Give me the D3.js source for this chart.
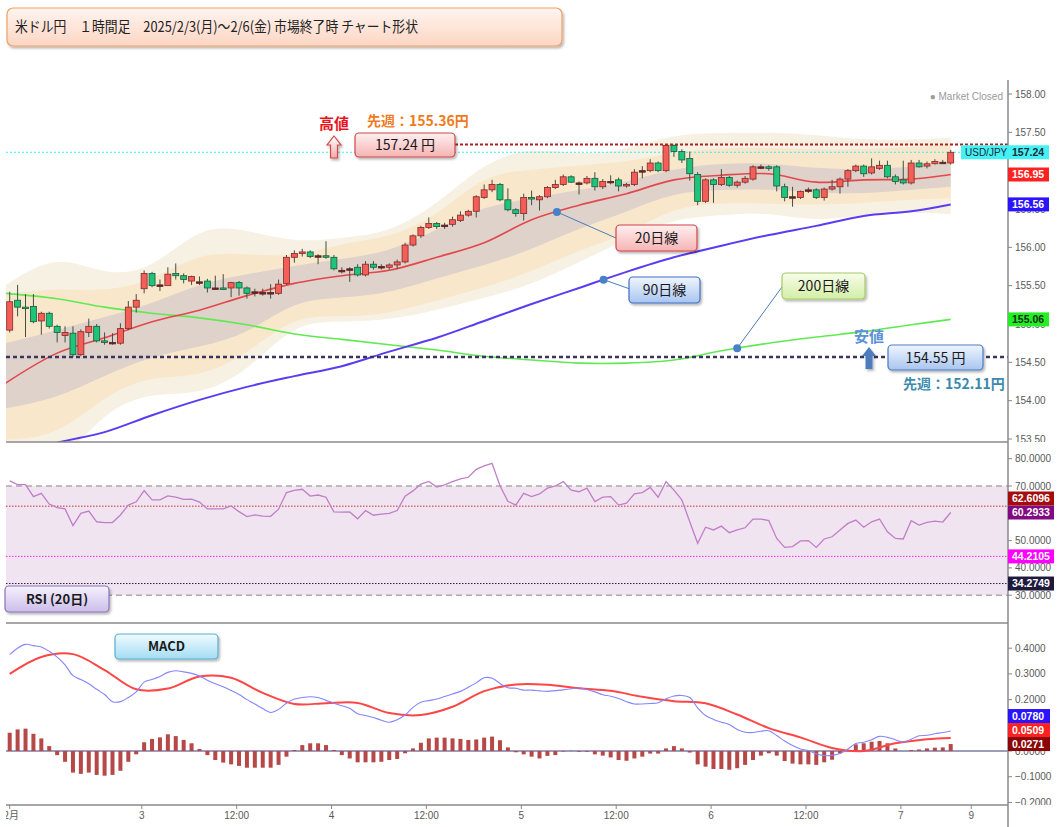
<!DOCTYPE html>
<html>
<head>
<meta charset="utf-8">
<script src="https://cdn.jsdelivr.net/npm/d3@7"></script>
<style>
  body { margin: 0; background: #fff; }
  svg { display: block; font-family: "Liberation Sans", Arial, sans-serif; }
  .jp { font-family: "Noto Sans CJK JP", "Noto Sans", sans-serif; }
</style>
</head>
<body>
<div id="chart"></div>
<script>
// ---------------- DATA ----------------
// hourly candles, index 0..119
const opens = [
  154.92,155.31,155.22,155.23,155.04,155.14,154.97,154.85,154.88,154.60,
  154.89,154.97,154.78,154.76,154.75,154.94,155.22,155.46,155.66,155.51,
  155.50,155.66,155.63,155.56,155.55,155.56,155.47,155.47,155.47,155.54,
  155.47,155.42,155.41,155.41,155.40,155.53,155.87,155.92,155.94,155.89,
  155.89,155.87,155.70,155.72,155.74,155.64,155.78,155.75,155.74,155.77,
  155.81,156.03,156.15,156.26,156.31,156.29,156.30,156.35,156.42,156.47,
  156.65,156.75,156.82,156.62,156.49,156.44,156.65,156.62,156.66,156.78,
  156.82,156.92,156.84,156.84,156.90,156.79,156.86,156.88,156.80,156.82,
  157.00,157.00,157.10,157.00,157.33,157.25,157.16,156.95,156.60,156.88,
  156.82,156.91,156.81,156.85,156.89,157.05,157.05,157.05,156.79,156.66,
  156.65,156.75,156.75,156.65,156.76,156.79,156.89,157.00,157.06,156.97,
  157.03,157.07,156.92,156.88,156.84,157.10,157.06,157.09,157.11,157.10
];
const highs = [
  155.42,155.51,155.39,155.39,155.16,155.16,154.99,154.97,154.97,154.93,
  155.07,155.00,154.89,154.88,155.01,155.30,155.39,155.70,155.68,155.58,
  155.74,155.79,155.66,155.63,155.62,155.59,155.63,155.65,155.55,155.56,
  155.49,155.46,155.46,155.52,155.58,155.90,155.96,155.98,155.96,155.91,
  156.08,155.90,155.74,155.74,155.78,155.82,155.82,155.78,155.79,155.84,
  156.06,156.17,156.28,156.39,156.33,156.32,156.40,156.47,156.49,156.68,
  156.82,156.88,156.84,156.77,156.51,156.70,156.74,156.68,156.80,156.88,
  156.95,156.94,156.86,156.93,156.98,156.89,156.94,156.91,156.84,157.02,
  157.06,157.15,157.12,157.34,157.34,157.28,157.25,156.98,156.90,156.90,
  157.02,156.93,156.87,156.93,157.07,157.08,157.07,157.07,156.83,156.79,
  156.74,156.78,156.77,156.78,156.88,156.91,157.02,157.08,157.08,157.16,
  157.13,157.13,156.95,157.13,157.14,157.14,157.12,157.15,157.14,157.27
];
const lows = [
  154.89,155.10,154.83,155.01,154.86,154.94,154.76,154.76,154.57,154.58,
  154.83,154.76,154.73,154.73,154.73,154.92,155.15,155.40,155.48,155.43,
  155.50,155.58,155.53,155.51,155.51,155.41,155.46,155.45,155.35,155.37,
  155.33,155.36,155.37,155.33,155.38,155.51,155.80,155.88,155.86,155.78,
  155.85,155.70,155.66,155.55,155.62,155.62,155.71,155.71,155.71,155.72,
  155.79,156.01,156.12,156.24,156.24,156.24,156.27,156.33,156.40,156.39,
  156.63,156.72,156.60,156.47,156.40,156.35,156.55,156.48,156.64,156.76,
  156.80,156.84,156.69,156.82,156.74,156.76,156.82,156.73,156.78,156.80,
  156.90,156.98,156.98,156.98,157.18,157.10,156.87,156.55,156.58,156.58,
  156.80,156.79,156.78,156.83,156.87,157.02,157.00,156.73,156.60,156.53,
  156.63,156.71,156.63,156.61,156.74,156.70,156.79,156.98,156.92,156.95,
  157.01,156.90,156.82,156.82,156.82,157.04,157.03,157.08,157.09,157.08
];
const closes = [
  155.29,155.22,155.21,155.03,155.14,154.97,154.89,154.89,154.60,154.90,
  154.97,154.78,154.76,154.76,154.94,155.22,155.31,155.66,155.50,155.51,
  155.65,155.63,155.58,155.62,155.55,155.47,155.47,155.46,155.54,155.47,
  155.40,155.42,155.41,155.41,155.52,155.87,155.92,155.94,155.88,155.89,
  155.88,155.72,155.70,155.72,155.64,155.78,155.74,155.75,155.77,155.81,
  156.03,156.15,156.26,156.31,156.27,156.29,156.36,156.42,156.47,156.66,
  156.75,156.82,156.62,156.49,156.44,156.65,156.63,156.66,156.78,156.82,
  156.92,156.85,156.84,156.90,156.79,156.86,156.86,156.80,156.82,156.98,
  157.00,157.10,157.00,157.33,157.25,157.14,156.96,156.60,156.88,156.82,
  156.91,156.81,156.85,156.90,157.05,157.05,157.03,156.80,156.65,156.66,
  156.73,156.75,156.65,156.76,156.79,156.89,157.00,157.06,156.96,157.05,
  157.07,156.92,156.86,156.84,157.10,157.05,157.09,157.12,157.11,157.24
];

// moving averages and envelope bands, sampled every 6 candles
const bandIdx   = [-0.5, 6, 12, 18, 24, 30, 36, 42, 48, 54, 60, 66, 72, 78, 84, 90, 96, 102, 108, 114, 119];
const ma20      = [154.23,154.62,154.82,155.03,155.18,155.37,155.53,155.63,155.70,155.87,156.06,156.36,156.55,156.70,156.88,156.94,156.96,156.85,156.88,156.89,156.95];
const ma90      = [153.25,153.45,153.59,153.81,154.01,154.18,154.32,154.45,154.64,154.82,155.04,155.26,155.47,155.68,155.87,156.02,156.16,156.28,156.41,156.47,156.56];
const ma200     = [155.40,155.33,155.22,155.14,155.08,154.99,154.87,154.80,154.73,154.66,154.58,154.53,154.49,154.49,154.53,154.65,154.75,154.83,154.90,154.99,155.06];
const band3Up   = [155.51,155.93,155.63,155.70,156.29,156.23,156.06,156.12,156.19,156.55,157.11,157.31,157.20,157.27,157.48,157.49,157.50,157.47,157.40,157.40,157.43];
const band2Up   = [155.39,155.47,155.42,155.56,155.94,155.91,155.87,156.06,156.12,156.40,156.96,157.01,157.07,157.11,157.24,157.30,157.30,157.27,157.28,157.31,157.33];
const band1Up   = [154.75,154.92,155.09,155.26,155.53,155.65,155.76,155.85,155.94,156.23,156.54,156.64,156.75,156.85,157.03,157.10,157.10,157.03,157.01,157.05,157.10];
const band1Down = [153.90,154.03,154.33,154.58,154.70,154.86,155.31,155.34,155.40,155.60,155.76,155.97,156.25,156.46,156.72,156.75,156.76,156.71,156.70,156.75,156.79];
const band2Down = [153.49,153.53,154.07,154.33,154.30,154.60,155.12,155.09,155.13,155.31,155.47,155.68,155.97,156.16,156.53,156.58,156.57,156.55,156.58,156.62,156.64];
const band3Down = [153.10,153.10,153.88,154.11,154.07,154.37,155.03,155.03,155.05,155.18,155.34,155.51,155.81,156.10,156.38,156.42,156.46,156.33,156.43,156.46,156.43];

// RSI (20), per candle
const rsi = [
  71.9,70.5,70.5,66.1,67.3,63.4,62.1,61.6,55.5,60.0,
  60.8,56.9,56.6,56.6,59.4,63.0,64.2,68.3,64.9,64.9,
  66.4,65.9,65.1,65.2,64.1,61.6,61.6,61.6,62.7,60.6,
  58.8,59.4,59.0,58.9,61.5,67.6,68.4,68.8,66.3,66.7,
  65.9,60.5,60.4,60.5,58.0,61.0,59.3,59.7,60.0,61.0,
  66.3,68.2,70.7,71.7,69.6,70.4,71.6,72.6,73.2,76.1,
  77.4,78.3,70.1,64.4,63.0,67.3,66.1,67.1,69.2,70.0,
  71.6,68.5,67.9,69.2,64.3,65.9,66.1,63.0,63.7,67.1,
  67.6,69.5,65.9,71.6,68.5,64.9,56.9,49.0,54.9,53.9,
  55.3,52.9,53.9,54.7,57.9,57.9,57.3,50.8,47.5,47.8,
  49.9,50.0,47.5,50.6,51.4,53.9,56.3,57.5,54.9,56.9,
  57.9,53.2,50.8,50.6,57.3,55.7,56.7,57.1,56.8,60.2933
];
const rsiLevels = [62.6096, 44.2105, 34.2749];
const rsiLevelColors = ["#c43434", "#ff22ff", "#2a2448"];
const rsiBadgeColors = ["#a50d0d", "#ff00ff", "#1e1a3c"];

// MACD, per candle
const macd = [
  0.375,0.400,0.415,0.410,0.405,0.388,0.365,0.335,0.293,0.278,
  0.262,0.240,0.220,0.192,0.192,0.208,0.230,0.268,0.278,0.290,
  0.306,0.312,0.308,0.302,0.292,0.275,0.262,0.250,0.235,0.220,
  0.200,0.183,0.165,0.150,0.162,0.186,0.202,0.208,0.211,0.208,
  0.197,0.186,0.176,0.166,0.145,0.138,0.130,0.120,0.112,0.122,
  0.140,0.170,0.190,0.196,0.202,0.212,0.222,0.232,0.248,0.265,
  0.285,0.283,0.263,0.246,0.244,0.237,0.237,0.234,0.232,0.235,
  0.238,0.242,0.245,0.239,0.230,0.219,0.213,0.204,0.192,0.183,
  0.183,0.185,0.188,0.203,0.214,0.216,0.208,0.168,0.138,0.123,
  0.112,0.103,0.084,0.073,0.072,0.077,0.079,0.060,0.039,0.021,
  0.008,0.002,-0.011,-0.018,-0.017,-0.010,0.008,0.029,0.034,0.044,
  0.057,0.053,0.044,0.034,0.046,0.059,0.061,0.067,0.072,0.0780
];
const macdHist = [
  0.071,0.084,0.087,0.067,0.049,0.019,-0.016,-0.042,-0.084,-0.089,
  -0.084,-0.093,-0.096,-0.093,-0.077,-0.042,-0.013,0.034,0.047,0.053,
  0.065,0.058,0.043,0.030,0.008,-0.016,-0.035,-0.045,-0.052,-0.058,
  -0.065,-0.065,-0.065,-0.065,-0.054,-0.022,0.004,0.023,0.030,0.030,
  0.023,0.004,-0.016,-0.029,-0.044,-0.044,-0.044,-0.042,-0.035,-0.031,
  -0.009,0.010,0.032,0.049,0.052,0.052,0.049,0.047,0.043,0.045,
  0.052,0.056,0.042,0.014,-0.005,-0.013,-0.022,-0.029,-0.019,-0.016,
  -0.002,0.001,-0.003,-0.003,-0.013,-0.018,-0.025,-0.035,-0.038,-0.029,
  -0.022,-0.010,-0.010,0.010,0.019,0.010,-0.006,-0.052,-0.061,-0.070,
  -0.070,-0.073,-0.067,-0.054,-0.035,-0.018,-0.009,-0.018,-0.039,-0.049,
  -0.052,-0.052,-0.054,-0.044,-0.034,-0.009,0.004,0.026,0.030,0.036,
  0.039,0.030,0.010,0.000,0.004,0.006,0.010,0.013,0.014,0.0271
];
const signalIdx = [0,4,8,12,16,20,24,28,32,36,40,44,48,52,56,60,64,68,72,76,80,84,88,92,96,100,104,108,112,116,119];
const signal    = [0.300,0.366,0.377,0.315,0.240,0.243,0.290,0.285,0.226,0.183,0.186,0.187,0.148,0.140,0.172,0.233,0.259,0.258,0.244,0.234,0.211,0.194,0.186,0.142,0.089,0.053,0.012,0.000,0.030,0.046,0.0509];

// axes
const priceTicks = [153.5, 154.0, 154.5, 155.0, 155.5, 156.0, 156.5, 157.0, 157.5, 158.0];
const rsiTicks = [30, 40, 50, 60, 70, 80];
const macdTicks = [-0.2, -0.1, 0, 0.1, 0.2, 0.3, 0.4];
const timeTickIdx = [0, 16.7, 28.7, 40.7, 52.7, 64.7, 76.7, 88.7, 100.7, 112.7, 121.6];
const timeTickLabels = ["2月", "3", "12:00", "4", "12:00", "5", "12:00", "6", "12:00", "7", "9"];

const titleText = "米ドル円　１時間足　2025/2/3(月)～2/6(金) 市場終了時 チャート形状";

// ---------------- LAYOUT ----------------
const width = 1059, height = 827;
const left = 6, right = 1008;
const mainTop = 55, mainBottom = 442, rsiBottom = 623, macdBottom = 805;

const svg = d3.select("#chart").append("svg")
  .attr("width", width)
  .attr("height", height);

const defs = svg.append("defs");

const shadow = defs.append("filter").attr("id", "shadow")
  .attr("x", "-10%").attr("y", "-20%").attr("width", "130%").attr("height", "160%");
shadow.append("feDropShadow")
  .attr("dx", 1.5).attr("dy", 2).attr("stdDeviation", 1.3)
  .attr("flood-color", "#000").attr("flood-opacity", 0.28);

const gradient = (id, top, bottom) => {
  const g = defs.append("linearGradient").attr("id", id)
    .attr("x1", 0).attr("y1", 0).attr("x2", 0).attr("y2", 1);
  g.append("stop").attr("offset", "0%").attr("stop-color", top);
  g.append("stop").attr("offset", "100%").attr("stop-color", bottom);
};
gradient("gTitle", "#fff4f0", "#fdd6c3");
gradient("gPink", "#fff0f0", "#f6b3b3");
gradient("gBlue", "#f0f5ff", "#a8c5ef");
gradient("gGreen", "#f8fdea", "#d3eea6");
gradient("gLav", "#f6f2fd", "#cbbde9");
gradient("gCyan", "#f0fbff", "#a4dcf4");
gradient("gArrow", "#ffffff", "#f4a8a8");

const clip = (id, y0, y1) => defs.append("clipPath").attr("id", id)
  .append("rect").attr("x", left).attr("y", y0).attr("width", right - left).attr("height", y1 - y0);
clip("clipMain", mainTop, mainBottom);
clip("clipRsi", mainBottom, rsiBottom);
clip("clipMacd", rsiBottom, macdBottom);
defs.append("clipPath").attr("id", "clipX")
  .append("rect").attr("x", left).attr("y", macdBottom).attr("width", width).attr("height", 30);

// scales
const x = d3.scaleLinear().domain([0, 119]).range([9.7, 950.7]);
const yP = d3.scaleLinear().domain([153.5, 158]).range([439, 94]);
const yR = d3.scaleLinear().domain([30, 80]).range([595.2, 458.7]);
const yM = d3.scaleLinear().domain([-0.2, 0.4]).range([802.4, 648.2]);

// ---------------- TITLE ----------------
svg.append("rect")
  .attr("x", 7).attr("y", 8).attr("width", 555).attr("height", 38).attr("rx", 6)
  .attr("fill", "url(#gTitle)").attr("stroke", "#f0a065").attr("stroke-width", 1.2)
  .attr("filter", "url(#shadow)");
svg.append("text").attr("class", "jp")
  .attr("x", 15).attr("y", 32)
  .attr("font-size", 14.5).attr("fill", "#222")
  .attr("textLength", 403).attr("lengthAdjust", "spacingAndGlyphs")
  .text(titleText);

// ---------------- MAIN PANEL ----------------
const main = svg.append("g").attr("clip-path", "url(#clipMain)");

const bandData = bandIdx.map((i, k) => ({
  i, u3: band3Up[k], u2: band2Up[k], u1: band1Up[k],
  d1: band1Down[k], d2: band2Down[k], d3: band3Down[k]
}));
const band = (up, down) => d3.area()
  .x(d => x(d.i)).y0(d => yP(d[down])).y1(d => yP(d[up]))
  .curve(d3.curveBasis);
main.append("path").datum(bandData).attr("d", band("u3", "d3")).attr("fill", "#f6f1e2");
main.append("path").datum(bandData).attr("d", band("u2", "d2")).attr("fill", "#f9e7cc");
main.append("path").datum(bandData).attr("d", band("u1", "d1")).attr("fill", "#ded2ca");

// moving averages
const maLine = d3.line().x(d => x(d[0])).y(d => yP(d[1])).curve(d3.curveCatmullRom.alpha(0.5));
const maSeries = [
  { values: ma200, color: "#5fea52", w: 1.6 },
  { values: ma90, color: "#5a3cf2", w: 2 },
  { values: ma20, color: "#e4474c", w: 1.6 }
];
maSeries.forEach(s => {
  main.append("path")
    .datum(bandIdx.map((i, k) => [i, s.values[k]]))
    .attr("d", maLine)
    .attr("fill", "none").attr("stroke", s.color).attr("stroke-width", s.w);
});

// current price / high / low reference lines
const lastClose = closes[closes.length - 1];
const hiPrice = d3.max(highs), loPrice = d3.min(lows);
main.append("line")
  .attr("x1", left).attr("x2", right).attr("y1", yP(lastClose)).attr("y2", yP(lastClose))
  .attr("stroke", "#3ee8f4").attr("stroke-width", 1).attr("stroke-dasharray", "2,2");
main.append("line")
  .attr("x1", 455).attr("x2", right).attr("y1", yP(hiPrice)).attr("y2", yP(hiPrice))
  .attr("stroke", "#a82424").attr("stroke-width", 2).attr("stroke-dasharray", "3,2");
main.append("line")
  .attr("x1", left).attr("x2", right).attr("y1", yP(loPrice)).attr("y2", yP(loPrice))
  .attr("stroke", "#3c3460").attr("stroke-width", 2.5).attr("stroke-dasharray", "4,3");

// candles
const candles = d3.range(opens.length).map(i => ({
  i, o: opens[i], h: highs[i], l: lows[i], c: closes[i]
}));
const cg = main.append("g");
cg.selectAll("line.wick").data(candles).join("line")
  .attr("class", "wick")
  .attr("x1", d => x(d.i)).attr("x2", d => x(d.i))
  .attr("y1", d => yP(d.h)).attr("y2", d => yP(d.l))
  .attr("stroke", "#3f5140").attr("stroke-width", 1);
cg.selectAll("rect").data(candles).join("rect")
  .attr("x", d => x(d.i) - 3)
  .attr("width", 6)
  .attr("y", d => yP(Math.max(d.o, d.c)))
  .attr("height", d => Math.max(1.5, Math.abs(yP(d.o) - yP(d.c))))
  .attr("fill", d => d.c > d.o ? "#f35e56" : (d.c < d.o ? "#1fc47b" : "#6a2424"))
  .attr("stroke", d => d.c > d.o ? "#84292a" : (d.c < d.o ? "#1c5a39" : "#5a1e1e"))
  .attr("stroke-width", 0.8);

// ---------------- RSI PANEL ----------------
const rg = svg.append("g").attr("clip-path", "url(#clipRsi)");
rg.append("rect")
  .attr("x", left).attr("width", right - left)
  .attr("y", yR(70)).attr("height", yR(30) - yR(70))
  .attr("fill", "#f1e4f1");
[70, 30].forEach(v => rg.append("line")
  .attr("x1", left).attr("x2", right).attr("y1", yR(v)).attr("y2", yR(v))
  .attr("stroke", "#ababab").attr("stroke-width", 1.5).attr("stroke-dasharray", "6,4"));
rsiLevels.forEach((v, k) => rg.append("line")
  .attr("x1", left).attr("x2", right).attr("y1", yR(v)).attr("y2", yR(v))
  .attr("stroke", rsiLevelColors[k]).attr("stroke-width", 1).attr("stroke-dasharray", "1.5,1.5"));
rg.append("path").datum(rsi)
  .attr("d", d3.line().x((d, i) => x(i)).y(d => yR(d)))
  .attr("fill", "none").attr("stroke", "#c17ec7").attr("stroke-width", 1.3);

// ---------------- MACD PANEL ----------------
const mg = svg.append("g").attr("clip-path", "url(#clipMacd)");
mg.append("line")
  .attr("x1", left).attr("x2", right).attr("y1", yM(0)).attr("y2", yM(0))
  .attr("stroke", "#7b7ba6").attr("stroke-width", 1.5);
mg.selectAll("rect.hist").data(macdHist).join("rect")
  .attr("class", "hist")
  .attr("x", (d, i) => x(i) - 2).attr("width", 4)
  .attr("y", d => Math.min(yM(d), yM(0)))
  .attr("height", d => Math.abs(yM(d) - yM(0)))
  .attr("fill", "#b64848");
mg.append("path")
  .datum(signalIdx.map((i, k) => [i, signal[k]]))
  .attr("d", d3.line().x(d => x(d[0])).y(d => yM(d[1])).curve(d3.curveCatmullRom.alpha(0.5)))
  .attr("fill", "none").attr("stroke", "#ff4545").attr("stroke-width", 2);
mg.append("path").datum(macd)
  .attr("d", d3.line().x((d, i) => x(i)).y(d => yM(d)).curve(d3.curveCatmullRom.alpha(0.5)))
  .attr("fill", "none").attr("stroke", "#8585ff").attr("stroke-width", 1.1);

// ---------------- FRAME & AXES ----------------
[mainBottom, rsiBottom].forEach(yy => svg.append("line")
  .attr("x1", left).attr("x2", right).attr("y1", yy).attr("y2", yy)
  .attr("stroke", "#8a8a8a").attr("stroke-width", 1.5));
svg.append("line")
  .attr("x1", left).attr("x2", right).attr("y1", macdBottom).attr("y2", macdBottom)
  .attr("stroke", "#8a8a8a").attr("stroke-width", 1.5);
svg.append("line")
  .attr("x1", right).attr("x2", right).attr("y1", 80).attr("y2", height)
  .attr("stroke", "#8a8a8a").attr("stroke-width", 1.5);

// value badges of each panel, stacked bottom-up so they never overlap
const stackBadges = (list, gap) => {
  list.sort((a, b) => b.y - a.y);
  for (let k = 1; k < list.length; k++) {
    if (list[k].y > list[k - 1].y - gap) list[k].y = list[k - 1].y - gap;
  }
  return list;
};
const lastRsi = rsi[rsi.length - 1];
const mainBadges = stackBadges([
  { y: yP(lastClose), text: d3.format(".2f")(lastClose), fill: "#44f2f4", color: "#1a2a3a", w: 41 },
  { y: yP(ma20[ma20.length - 1]), text: d3.format(".2f")(ma20[ma20.length - 1]), fill: "#ff2222", color: "#fff", w: 41 },
  { y: yP(ma90[ma90.length - 1]), text: d3.format(".2f")(ma90[ma90.length - 1]), fill: "#2a14ff", color: "#fff", w: 41 },
  { y: yP(ma200[ma200.length - 1]), text: d3.format(".2f")(ma200[ma200.length - 1]), fill: "#22f022", color: "#1a2a1a", w: 41 }
], 14);
const rsiBadges = stackBadges([
  { y: yR(rsiLevels[0]), text: d3.format(".4f")(rsiLevels[0]), fill: rsiBadgeColors[0], color: "#fff", w: 46 },
  { y: yR(lastRsi), text: d3.format(".4f")(lastRsi), fill: "#820a82", color: "#fff", w: 46 },
  { y: yR(rsiLevels[1]), text: d3.format(".4f")(rsiLevels[1]), fill: rsiBadgeColors[1], color: "#fff", w: 46 },
  { y: yR(rsiLevels[2]), text: d3.format(".4f")(rsiLevels[2]), fill: rsiBadgeColors[2], color: "#fff", w: 46 }
], 14);
const macdBadges = stackBadges([
  { y: yM(macd[macd.length - 1]), text: d3.format(".4f")(macd[macd.length - 1]), fill: "#2a14ff", color: "#fff", w: 42 },
  { y: yM(signal[signal.length - 1]), text: d3.format(".4f")(signal[signal.length - 1]), fill: "#ff2020", color: "#fff", w: 42 },
  { y: yM(macdHist[macdHist.length - 1]), text: d3.format(".4f")(macdHist[macdHist.length - 1]), fill: "#8a0606", color: "#fff", w: 42 }
], 14);

// a tick label (almost) fully hidden behind badges is left out
const covered = (ty, list) => {
  const top = ty - 3, bot = ty + 3;
  const spans = list.map(b => [b.y - 7, b.y + 7]).sort((a, b) => a[0] - b[0]);
  let reach = top;
  for (const [s, e] of spans) { if (s <= reach && e > reach) reach = e; }
  return reach >= bot;
};

const yAxisTicks = (ticks, scale, fmt, y0, y1, blist) => {
  const g = svg.append("g");
  ticks.filter(v => scale(v) > y0 && scale(v) < y1 + 6).forEach(v => {
    g.append("line").attr("x1", right).attr("x2", right + 4)
      .attr("y1", scale(v)).attr("y2", scale(v)).attr("stroke", "#888");
  });
  defs.append("clipPath").attr("id", "cl" + y0)
    .append("rect").attr("x", right).attr("y", y0).attr("width", 60).attr("height", y1 - y0);
  const lab = g.append("g").attr("clip-path", `url(#cl${y0})`);
  ticks.filter(v => !covered(scale(v), blist)).forEach(v => {
    lab.append("text")
      .attr("x", right + 7).attr("y", scale(v)).attr("dy", "0.35em")
      .attr("font-size", 10).attr("fill", "#595959")
      .text(d3.format(fmt)(v));
  });
};
yAxisTicks(priceTicks, yP, ".2f", mainTop, mainBottom, mainBadges);
yAxisTicks(rsiTicks, yR, ".4f", mainBottom, rsiBottom, rsiBadges);
yAxisTicks(macdTicks, yM, ".4f", rsiBottom, macdBottom, macdBadges);

// x axis
const xg = svg.append("g");
timeTickIdx.forEach(t => xg.append("line")
  .attr("x1", x(t)).attr("x2", x(t)).attr("y1", macdBottom).attr("y2", macdBottom + 4)
  .attr("stroke", "#888"));
const xl = xg.append("g").attr("clip-path", "url(#clipX)");
timeTickIdx.forEach((t, k) => xl.append("text")
  .attr("class", k === 0 ? "jp" : null)
  .attr("x", x(t) + (k === 0 ? 1.5 : 0)).attr("y", macdBottom + 14)
  .attr("text-anchor", "middle").attr("font-size", 10).attr("fill", "#595959")
  .text(timeTickLabels[k]));

// draw badges on top of the axis
[mainBadges, rsiBadges, macdBadges].forEach(list => list.forEach(b => {
  svg.append("rect").attr("x", right).attr("y", b.y - 7).attr("width", b.w).attr("height", 14)
    .attr("fill", b.fill);
  svg.append("text").attr("x", right + 4).attr("y", b.y).attr("dy", "0.36em")
    .attr("font-size", 10.5).attr("font-weight", "bold").attr("fill", b.color)
    .text(b.text);
}));
svg.append("rect").attr("x", 961).attr("y", yP(lastClose) - 7).attr("width", right - 961).attr("height", 14)
  .attr("fill", "#44f2f4");
svg.append("text").attr("x", 965).attr("y", yP(lastClose)).attr("dy", "0.36em")
  .attr("font-size", 10).attr("fill", "#1a2a3a").text("USD/JPY");

// ---------------- ANNOTATIONS ----------------
svg.append("text").attr("x", 1003).attr("y", 100).attr("text-anchor", "end")
  .attr("font-size", 10).attr("fill", "#9a9a9a").text("● Market Closed");

const box = (bx, by, bw, bh, grad, stroke, label, size, bold) => {
  svg.append("rect").attr("x", bx).attr("y", by).attr("width", bw).attr("height", bh).attr("rx", 4)
    .attr("fill", `url(#${grad})`).attr("stroke", stroke).attr("stroke-width", 1.2)
    .attr("filter", "url(#shadow)");
  svg.append("text").attr("class", "jp")
    .attr("x", bx + bw / 2).attr("y", by + bh / 2).attr("dy", "0.36em")
    .attr("text-anchor", "middle").attr("font-size", size)
    .attr("font-weight", bold ? "bold" : "normal").attr("fill", "#1a1a1a")
    .text(label);
};
const arrow = (cx, ty, fill, stroke) => {
  const pts = [[cx, ty], [cx + 7, ty + 9], [cx + 3.5, ty + 9], [cx + 3.5, ty + 22],
               [cx - 3.5, ty + 22], [cx - 3.5, ty + 9], [cx - 7, ty + 9]];
  svg.append("polygon").attr("points", pts.map(p => p.join(",")).join(" "))
    .attr("fill", fill).attr("stroke", stroke).attr("stroke-width", stroke === "none" ? 0 : 1.2)
    .attr("filter", "url(#shadow)");
};

// high
svg.append("text").attr("class", "jp").attr("x", 334).attr("y", 129).attr("text-anchor", "middle")
  .attr("font-size", 15).attr("font-weight", "bold").attr("fill", "#e8141c").text("高値");
arrow(334, 136, "url(#gArrow)", "#d04a4a");
svg.append("text").attr("class", "jp").attr("x", 367).attr("y", 126)
  .attr("font-size", 14).attr("font-weight", "bold").attr("fill", "#f07a1c").text("先週：155.36円");
box(355, 133, 100, 24, "gPink", "#c84a4a", "157.24 円", 14, false);

// low
svg.append("text").attr("class", "jp").attr("x", 869).attr("y", 342).attr("text-anchor", "middle")
  .attr("font-size", 15).attr("font-weight", "bold").attr("fill", "#5b8fd6").text("安値");
arrow(869, 347, "#4d7dbf", "none");
box(888, 345, 95, 25, "gBlue", "#4a7cc0", "154.55 円", 14, false);
svg.append("text").attr("class", "jp").attr("x", 903).attr("y", 389)
  .attr("font-size", 14).attr("font-weight", "bold").attr("fill", "#3b8aad").text("先週：152.11円");

// moving-average callouts
const maAt = (vals, i) => d3.scaleLinear().domain(bandIdx).range(vals)(i);
const callouts = [
  { vals: ma20, idx: 69.2, bx: 616, by: 225, bw: 81, grad: "gPink", stroke: "#d04545", label: "20日線", ax: 616, ay: 238 },
  { vals: ma90, idx: 75.1, bx: 629, by: 277, bw: 71, grad: "gBlue", stroke: "#3f6fc4", label: "90日線", ax: 630, ay: 289 },
  { vals: ma200, idx: 92.0, bx: 782, by: 273, bw: 83, grad: "gGreen", stroke: "#a4ca68", label: "200日線", ax: 782, ay: 287 }
];
callouts.forEach(c => {
  const mx = x(c.idx), my = yP(maAt(c.vals, c.idx));
  svg.append("line").attr("x1", mx).attr("y1", my).attr("x2", c.ax).attr("y2", c.ay)
    .attr("stroke", "#4a7cc0").attr("stroke-width", 1);
  svg.append("circle").attr("cx", mx).attr("cy", my).attr("r", 4).attr("fill", "#4a80c6");
  box(c.bx, c.by, c.bw, 26, c.grad, c.stroke, c.label, 14, false);
});

// panel labels
box(5, 586, 104, 26, "gLav", "#8b72b9", "RSI (20日)", 13, true);
box(115, 634, 103, 25, "gCyan", "#58aecb", "MACD", 13, true);
</script>
</body>
</html>
